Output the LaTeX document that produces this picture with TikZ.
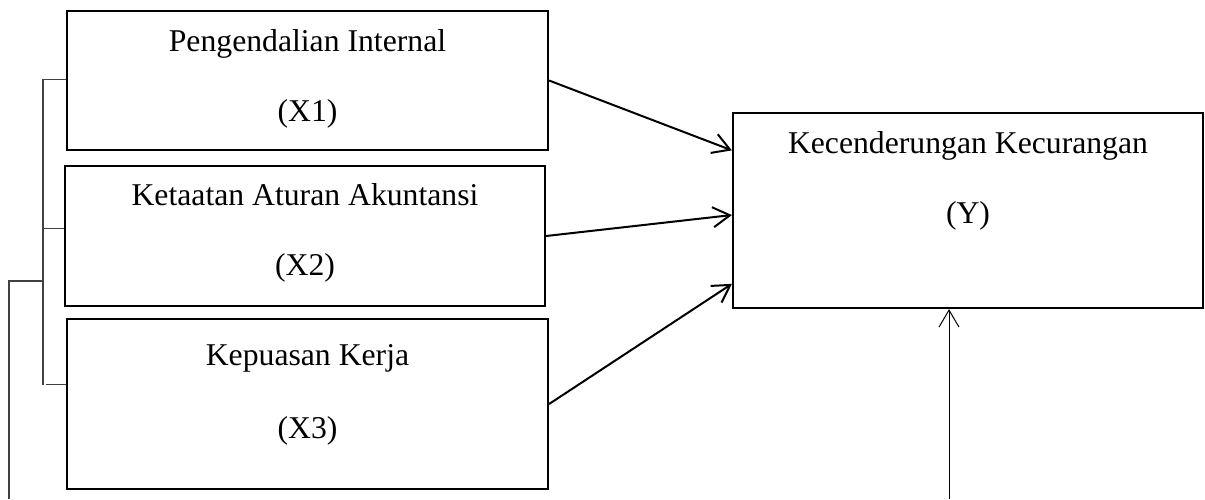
\documentclass[tikz,border=0pt]{standalone}
\usepackage{fontspec}
\setmainfont{Liberation Serif}
\usetikzlibrary{arrows.meta,calc}
\begin{document}
\begin{tikzpicture}[x=1pt,y=-1pt,
  varbox/.style={draw=black, line width=2.2pt, rectangle, inner sep=0pt},
  lbl/.style={anchor=base, inner sep=0pt, font=\fontsize{31.7}{38}\selectfont},
  flow/.style={draw=black, line width=2pt, -{Straight Barb[length=17pt,width=20pt]}},
  thinflow/.style={draw=black, line width=1pt, -{Straight Barb[length=17pt,width=20pt]}},
  brack/.style={draw=black!75, line width=1.1pt}]
\useasboundingbox (0,0) rectangle (1205,499);
% boxes
\node[varbox, minimum width=481pt, minimum height=139pt] (x1) at (307.5,80.5) {};
\node[varbox, minimum width=480pt, minimum height=140pt] (x2) at (305,236) {};
\node[varbox, minimum width=481pt, minimum height=170pt] (x3) at (307.5,404) {};
\node[varbox, minimum width=470pt, minimum height=195pt] (y) at (968,210.5) {};
% labels
\node[lbl] (t1a) at (307.5,51.5) {Pengendalian Internal};
\node[lbl] (t1b) at (307.5,121.5) {(X1)};
\node[lbl] (t2a) at (305,205) {Ketaatan Aturan Akuntansi};
\node[lbl] (t2b) at (305,275) {(X2)};
\node[lbl] (t3a) at (307.5,365) {Kepuasan Kerja};
\node[lbl] (t3b) at (307.5,438) {(X3)};
\node[lbl] (tya) at (968,153) {Kecenderungan Kecurangan};
\node[lbl] (tyb) at (968,223) {(Y)};
% arrows into Y
\draw[flow] (x1.east) -- ($(y.north west)!0.195!(y.south west)$);
\draw[flow] (x2.east) -- ($(y.north west)!0.523!(y.south west)$);
\draw[flow] (x3.east) -- ($(y.north west)!0.872!(y.south west)$);
% vertical arrow from below
\coordinate (src) at (949,499);
\draw[thinflow] (src) -- (src |- y.south);
% bracket
\coordinate (bx) at (43,0);
\coordinate (k1) at ($(x1.north west)!0.49!(x1.south west)$);
\coordinate (k2) at ($(x2.north west)!0.45!(x2.south west)$);
\coordinate (k3) at ($(x3.north west)!0.388!(x3.south west)$);
\draw[brack] (k1) -- (k1 -| bx) -- (k3 -| bx);
\draw[brack] (k2) -- (k2 -| bx);
\draw[brack] (k3) -- ($(k3 -| bx)+(3,0)$);
\coordinate (bj) at (43,281);
\coordinate (lb) at (9,499);
\draw[brack] (lb) |- (bj);
\end{tikzpicture}
\end{document}
